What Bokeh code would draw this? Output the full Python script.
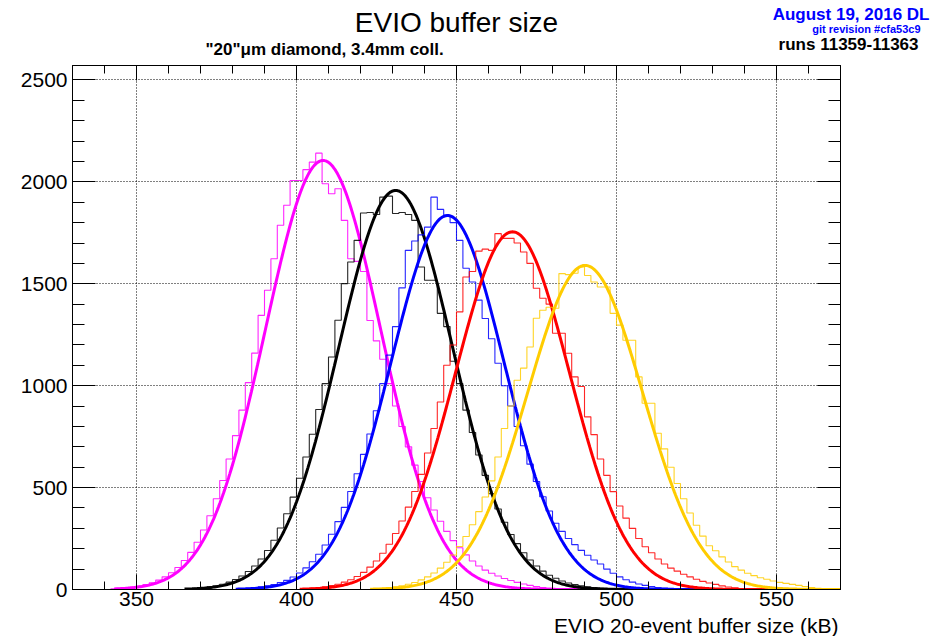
import numpy as np
from bokeh.plotting import figure
from bokeh.layouts import column
from bokeh.models import Range1d, LinearAxis, SingleIntervalTicker, Label
from bokeh.embed import file_html
from bokeh.resources import INLINE

# ---------------- data ----------------
bin_width = 2
x_lo, x_hi = 330, 570
y_top = 2571

run_colors = ["#ff00ff", "#000000", "#0000ff", "#ff0000", "#ffcc00"]

# histogram: first bin lower edge and counts (2 kB bins)
hist_start = [342, 368, 382, 402, 424]

magenta_counts = [4, 6, 8, 12, 17, 24, 33, 46, 62, 82, 108, 142, 182, 232, 292, 362, 445, 535,
                  640, 755, 880, 1015, 1160, 1345, 1468, 1623, 1787, 1885, 2007, 2007, 2060,
                  2097, 2141, 1991, 1942, 1966, 1811, 1623, 1610, 1560, 1320, 1220, 1130, 1010,
                  900, 800, 700, 610, 530, 450, 390, 335, 285, 240, 205, 170, 140, 115, 95, 80,
                  66, 54, 44, 35, 27, 20, 14, 9, 6, 4, 2]
black_counts = [6, 9, 13, 18, 26, 36, 49, 66, 88, 115, 150, 191, 242, 302, 372, 453, 546, 650,
                762, 883, 1010, 1141, 1321, 1501, 1607, 1713, 1847, 1850, 1840, 1925, 1930,
                1845, 1850, 1840, 1811, 1582, 1517, 1517, 1355, 1290, 1120, 1010, 880, 770,
                660, 560, 470, 395, 330, 270, 225, 180, 145, 115, 90, 70, 55, 42, 32, 24, 18,
                13, 9, 6, 4, 3, 2]
blue_counts = [4, 6, 8, 13, 18, 24, 34, 45, 61, 81, 106, 136, 173, 218, 271, 333, 403, 481, 568,
               663, 763, 877, 1010, 1150, 1290, 1480, 1664, 1710, 1740, 1778, 1925, 1865, 1836,
               1800, 1713, 1576, 1509, 1420, 1330, 1230, 1110, 1000, 900, 800, 705, 615, 530,
               455, 385, 325, 285, 250, 220, 192, 168, 145, 125, 100, 80, 62, 48, 36, 27, 20,
               14, 10, 7, 5, 3, 2]
red_counts = [4, 7, 9, 13, 19, 26, 36, 48, 64, 84, 110, 140, 178, 222, 275, 336, 404, 481, 565,
              670, 790, 920, 1100, 1200, 1362, 1533, 1560, 1660, 1670, 1664, 1746, 1723, 1723,
              1700, 1656, 1600, 1478, 1429, 1400, 1257, 1257, 1159, 1043, 996, 847, 760, 640,
              560, 480, 410, 350, 300, 250, 210, 180, 150, 125, 105, 90, 75, 62, 50, 40, 32,
              25, 18, 12, 8, 5, 3, 2]
gold_counts = [4, 6, 9, 13, 18, 26, 34, 47, 62, 81, 105, 134, 169, 211, 260, 318, 382, 454, 533,
               650, 790, 900, 1027, 1086, 1190, 1331, 1370, 1385, 1380, 1550, 1545, 1552, 1582,
               1541, 1509, 1484, 1484, 1355, 1297, 1223, 1223, 1043, 914, 914, 767, 690, 600,
               520, 445, 375, 315, 262, 215, 190, 160, 135, 112, 95, 80, 68, 58, 50, 42, 35,
               30, 25, 20, 15, 10, 6, 3, 2]
hist_counts = [magenta_counts, black_counts, blue_counts, red_counts, gold_counts]

# gaussian fit parameters
fit_amp = [2105, 1958, 1835, 1755, 1590]
fit_mean = [408.3, 431.0, 447.2, 467.5, 490.2]
fit_sigma = [18.0, 17.8, 17.7, 17.8, 18.0]
fit_from = [343, 365, 381, 401, 423]
fit_to = [500, 522, 536, 570, 570]

x_ticks_major = 50
y_ticks_major = 500

title_text = "EVIO buffer size"
subtitle_text = "\"20\"\u03bcm diamond, 3.4mm coll."
date_text = "August 19, 2016 DL"
git_text = "git revision #cfa53c9"
runs_text = "runs 11359-11363"
x_title = "EVIO 20-event buffer size (kB)"

# ---------------- layout sizes ----------------
W = 931
HEAD_H = 64
MAIN_H = 550
FOOT_H = 22
font = "Liberation Sans"


def text_strip(height):
    f = figure(width=W, height=height, x_range=Range1d(0, W), y_range=Range1d(height, 0),
               output_backend="svg", toolbar_location=None,
               x_axis_location=None, y_axis_location=None,
               min_border_left=0, min_border_right=0, min_border_top=0, min_border_bottom=0,
               frame_align=False)
    f.grid.visible = False
    f.outline_line_color = None
    f.background_fill_color = "white"
    f.border_fill_color = "white"
    return f


def add_label(fig, x, y, text, size, color="black", style="normal", align="left",
              baseline="middle"):
    fig.add_layout(Label(x=x, y=y, text=text, text_font=font, text_font_size=size,
                         text_color=color, text_font_style=style, text_align=align,
                         text_baseline=baseline))


# header with titles
head = text_strip(HEAD_H)
add_label(head, 456, 22, title_text, "28px", align="center")
add_label(head, 205, 49, subtitle_text, "17px", style="bold")
add_label(head, 929, 14, date_text, "17px", color="#0000ff", style="bold", align="right")
add_label(head, 920, 28, git_text, "11px", color="#0000ff", style="bold", align="right")
add_label(head, 918, 44, runs_text, "17px", style="bold", align="right")

# ---------------- main plot ----------------
p = figure(width=W, height=MAIN_H,
           x_range=Range1d(x_lo, x_hi), y_range=Range1d(0, y_top),
           output_backend="svg", toolbar_location=None, frame_align=False,
           min_border_left=72, min_border_right=W - 840, min_border_top=1, min_border_bottom=25)
p.background_fill_color = "white"
p.border_fill_color = "white"
p.outline_line_color = "black"
p.outline_line_width = 1

xt = SingleIntervalTicker(interval=x_ticks_major, num_minor_ticks=5)
yt = SingleIntervalTicker(interval=y_ticks_major, num_minor_ticks=5)

top_ax = LinearAxis(ticker=xt)
right_ax = LinearAxis(ticker=yt)
p.add_layout(top_ax, "above")
p.add_layout(right_ax, "right")

for ax in p.xaxis:
    ax.ticker = xt
for ax in p.yaxis:
    ax.ticker = yt


def style_axis(ax, tmaj, tmin, labels=True):
    ax.major_tick_in = tmaj
    ax.major_tick_out = 0
    ax.minor_tick_in = tmin
    ax.minor_tick_out = 0
    ax.axis_line_color = "black"
    ax.major_tick_line_color = "black"
    ax.minor_tick_line_color = "black"
    ax.major_label_text_font = font
    if labels:
        ax.major_label_text_font_size = "21px"
        ax.major_label_text_color = "black"
    else:
        ax.major_label_text_font_size = "0px"
        ax.major_label_text_color = None
        ax.major_label_standoff = 0


style_axis(p.below[0], 15, 8)
style_axis(top_ax, 15, 8, labels=False)
style_axis(p.left[0], 23, 12)
style_axis(right_ax, 23, 12, labels=False)
p.below[0].major_label_standoff = 2
p.left[0].major_label_standoff = 5

p.xgrid.ticker = xt
p.ygrid.ticker = yt
for g in (p.xgrid, p.ygrid):
    g.grid_line_color = "black"
    g.grid_line_dash = "1 2"
    g.grid_line_width = 1

n_bins = (x_hi - x_lo) // bin_width
edges = np.arange(x_lo, x_hi + bin_width, bin_width)

for i, color in enumerate(run_colors):
    full = np.zeros(n_bins)
    k0 = (hist_start[i] - x_lo) // bin_width
    cnt = np.array(hist_counts[i], dtype=float)
    full[k0:k0 + len(cnt)] = cnt
    xs = np.repeat(edges, 2)[1:-1]
    ys = np.repeat(full, 2)
    p.line(xs, ys, line_color=color, line_width=1.1, line_alpha=0.85)

    xf = np.linspace(fit_from[i], fit_to[i], 400)
    yf = fit_amp[i] * np.exp(-0.5 * ((xf - fit_mean[i]) / fit_sigma[i]) ** 2)
    p.line(xf, yf, line_color=color, line_width=3)

# footer with the x-axis title (right-aligned as in ROOT)
foot = text_strip(FOOT_H)
add_label(foot, 838, 11, x_title, "21px", align="right")

layout = column(head, p, foot, spacing=0)
open("out.html", "w").write(file_html(layout, INLINE))
